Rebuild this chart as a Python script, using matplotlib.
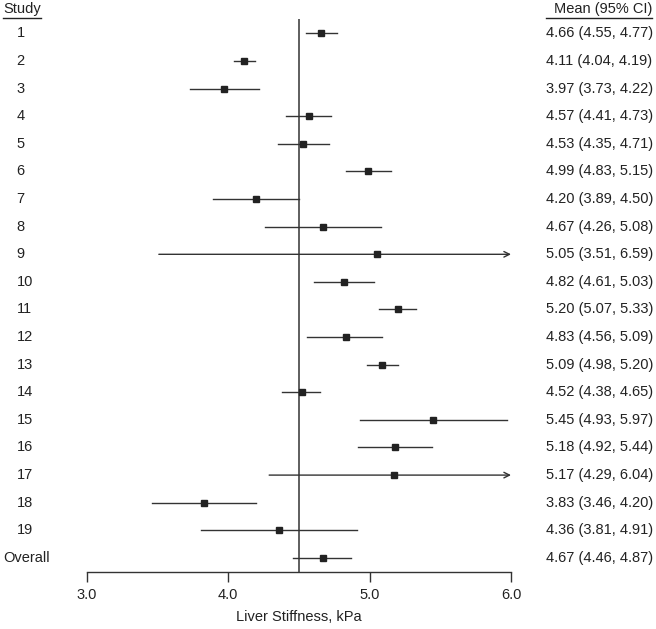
import matplotlib
matplotlib.use("Agg")
import matplotlib.pyplot as plt
import matplotlib.transforms as mtransforms
from matplotlib.lines import Line2D

plt.rcParams['font.family'] = ['Liberation Sans', 'DejaVu Sans']

studies = [str(i) for i in range(1, 20)] + ["Overall"]
means = [4.66, 4.11, 3.97, 4.57, 4.53, 4.99, 4.20, 4.67, 5.05, 4.82,
         5.20, 4.83, 5.09, 4.52, 5.45, 5.18, 5.17, 3.83, 4.36, 4.67]
lower = [4.55, 4.04, 3.73, 4.41, 4.35, 4.83, 3.89, 4.26, 3.51, 4.61,
         5.07, 4.56, 4.98, 4.38, 4.93, 4.92, 4.29, 3.46, 3.81, 4.46]
upper = [4.77, 4.19, 4.22, 4.73, 4.71, 5.15, 4.50, 5.08, 6.59, 5.03,
         5.33, 5.09, 5.20, 4.65, 5.97, 5.44, 6.04, 4.20, 4.91, 4.87]
ref_value = 4.5
xticks = [3.0, 4.0, 5.0, 6.0]
xtick_labels = ["3.0", "4.0", "5.0", "6.0"]

W, H = 656, 629
fig = plt.figure(figsize=(W / 100, H / 100), dpi=100)
x0, x1 = 86.7, 511.0
ax = fig.add_axes([x0 / W, (H - 572) / H, (x1 - x0) / W, 572 / H])
xmin, xmax = 3.0, 6.0
ax.set_xlim(xmin, xmax)
row0, step = 33.5, 27.6
ax.set_ylim(1 + (572 - row0) / step, 1 - row0 / step)

tc = '#222222'
lc = '#333333'

for spine in ['top', 'right', 'left']:
    ax.spines[spine].set_visible(False)
ax.spines['bottom'].set_bounds(xmin, xmax)
ax.spines['bottom'].set_color(lc)
ax.spines['bottom'].set_linewidth(1.0)
ax.set_yticks([])
ax.set_xticks(xticks)
ax.set_xticklabels(xtick_labels)
ax.tick_params(axis='x', direction='out', length=7, width=1.0, color=lc,
               labelsize=10.5, labelcolor=tc, pad=4.5)
ax.set_xlabel("Liver Stiffness, kPa", fontsize=10.5, color=tc, labelpad=6)

# reference line
ax.vlines(ref_value, 1 - (row0 - 19) / step, 1 + (572 - row0) / step,
          color=lc, lw=1.1, zorder=1)

for i, (m, lo, hi) in enumerate(zip(means, lower, upper)):
    y = i + 1
    if hi > xmax:
        ax.annotate("", xy=(xmax, y), xytext=(lo, y),
                    arrowprops=dict(arrowstyle='->', color=lc, lw=1.0,
                                    shrinkA=0, shrinkB=0, mutation_scale=10))
    else:
        ax.plot([lo, hi], [y, y], color=lc, lw=1.0, zorder=2)
    ax.plot(m, y, marker='s', markersize=5.0, color='#222222', zorder=3)

trans = mtransforms.blended_transform_factory(fig.transFigure, ax.transData)
header_y = 1 - (row0 - 9.5) / step
fig.text(3 / W, header_y, "Study", transform=trans, ha='left', va='center',
         fontsize=10.5, color=tc)
fig.text(652 / W, header_y, "Mean (95% CI)", transform=trans, ha='right',
         va='center', fontsize=10.5, color=tc)
fig.add_artist(Line2D([3 / W, 41 / W], [1 - 17.5 / H, 1 - 17.5 / H],
                      transform=fig.transFigure, color=tc, lw=1.0))
fig.add_artist(Line2D([546 / W, 652 / W], [1 - 17.5 / H, 1 - 17.5 / H],
                      transform=fig.transFigure, color=tc, lw=1.0))

for i, (s, m, lo, hi) in enumerate(zip(studies, means, lower, upper)):
    y = i + 1
    xs = 3 if s == "Overall" else 16.5
    fig.text(xs / W, y, s, transform=trans, ha='left', va='center',
             fontsize=10.5, color=tc)
    fig.text(546 / W, y, f"{m:.2f} ({lo:.2f}, {hi:.2f})", transform=trans,
             ha='left', va='center', fontsize=10.5, color=tc)

fig.savefig("out.png", dpi=100, facecolor='white')
